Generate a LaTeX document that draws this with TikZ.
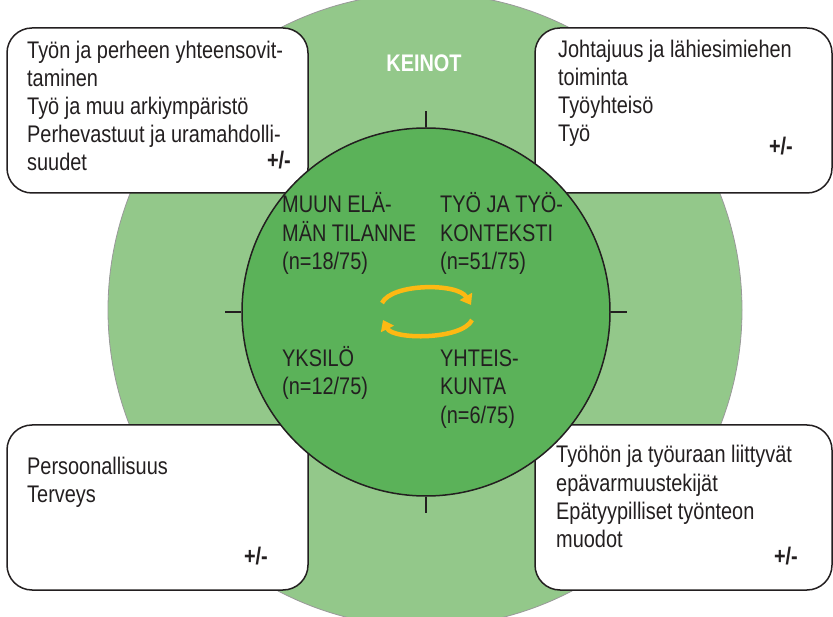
\documentclass[tikz,border=0pt]{standalone}
\usepackage{fontspec}
\setmainfont{Liberation Sans}[FakeStretch=0.83]
\usetikzlibrary{arrows.meta}
\definecolor{lgreen}{RGB}{147,200,138}
\definecolor{dgreen}{RGB}{91,178,89}
\definecolor{orng}{RGB}{253,185,19}
\definecolor{ink}{RGB}{35,31,32}
\tikzset{
  infobox/.style={rectangle, rounded corners=25pt, draw=ink, line width=1.5pt, fill=white,
    minimum height=165pt, inner sep=0pt},
  txt/.style={anchor=base west, inner sep=0pt, text=ink, font=\fontsize{24}{28}\selectfont},
  pm/.style={anchor=base east, inner sep=0pt, text=ink, font=\fontsize{24}{28}\selectfont\bfseries},
  tick/.style={draw=ink, line width=1.3pt},
  cyc/.style={draw=orng, line width=4.5pt, -{Triangle[length=10pt,width=14pt]}}
}
\begin{document}
\begin{tikzpicture}[x=1pt,y=-1pt]
\useasboundingbox (0,0) rectangle (833,617);
\node[circle, minimum size=634pt, inner sep=0pt, fill=lgreen, draw=gray!80, line width=0.8pt] (outer) at (425,310) {};
\node[font=\fontsize{24}{28}\selectfont\bfseries, text=white, anchor=base, inner sep=0pt] (keinot) at (424,72) {KEINOT};
% boxes
\node[infobox, minimum width=301pt] (tl) at (157.5,110.5) {};
\node[infobox, minimum width=297pt] (tr) at (683.5,110.5) {};
\node[infobox, minimum width=301pt] (bl) at (157.5,507.5) {};
\node[infobox, minimum width=297pt] (br) at (683.5,507.5) {};
% inner circle
\node[circle, minimum size=368pt, inner sep=0pt, fill=dgreen, draw=ink, line width=1.5pt] (inner) at (426,312) {};
\draw[tick] (inner.north) -- ++(0,-16);
\draw[tick] (inner.south) -- ++(0,16);
\draw[tick] (inner.west) -- ++(-16,0);
\draw[tick] (inner.east) -- ++(16,0);
% top-left box text
\node[txt] (tl1) at (27,59) {Työn ja perheen yhteensovit-};
\node[txt] (tl2) at (27,87) {taminen};
\node[txt] (tl3) at (27,115) {Työ ja muu arkiympäristö};
\node[txt] (tl4) at (27,143) {Perhevastuut ja uramahdolli-};
\node[txt] (tl5) at (27,171) {suudet};
\node[pm] (tlpm) at (291,169) {+/-};
% top-right box text
\node[txt] (tr1) at (558,58) {Johtajuus ja lähiesimiehen};
\node[txt] (tr2) at (558,86) {toiminta};
\node[txt] (tr3) at (558,114) {Työyhteisö};
\node[txt] (tr4) at (558,142) {Työ};
\node[pm] (trpm) at (793,155) {+/-};
% bottom-left box text
\node[txt] (bl1) at (27,475) {Persoonallisuus};
\node[txt] (bl2) at (27,503) {Terveys};
\node[pm] (blpm) at (268,564) {+/-};
% bottom-right box text
\node[txt] (br1) at (556,463) {Työhön ja työuraan liittyvät};
\node[txt] (br2) at (556,491) {epävarmuustekijät};
\node[txt] (br3) at (556,519) {Epätyypilliset työnteon};
\node[txt] (br4) at (556,547) {muodot};
\node[pm] (brpm) at (798,564) {+/-};
% inner texts
\node[txt] (m1) at (282,213) {MUUN ELÄ-};
\node[txt] (m2) at (282,242) {MÄN TILANNE};
\node[txt] (m3) at (282,270) {(n=18/75)};
\node[txt] (t1) at (440,213) {TYÖ JA TYÖ-};
\node[txt] (t2) at (440,242) {KONTEKSTI};
\node[txt] (t3) at (440,270) {(n=51/75)};
\node[txt] (y1) at (282,367) {YKSILÖ};
\node[txt] (y2) at (282,395) {(n=12/75)};
\node[txt] (h1) at (440,367) {YHTEIS-};
\node[txt] (h2) at (440,395) {KUNTA};
\node[txt] (h3) at (440,424) {(n=6/75)};
% cycle arrows
\coordinate (a1) at (382,303);
\coordinate (a2) at (471,305);
\coordinate (b1) at (472,320);
\coordinate (b2) at (383,320);
\draw[cyc] (a1) .. controls (392,283) and (458,283) .. (a2);
\draw[cyc] (b1) .. controls (462,340) and (393,340) .. (b2);
\end{tikzpicture}
\end{document}
